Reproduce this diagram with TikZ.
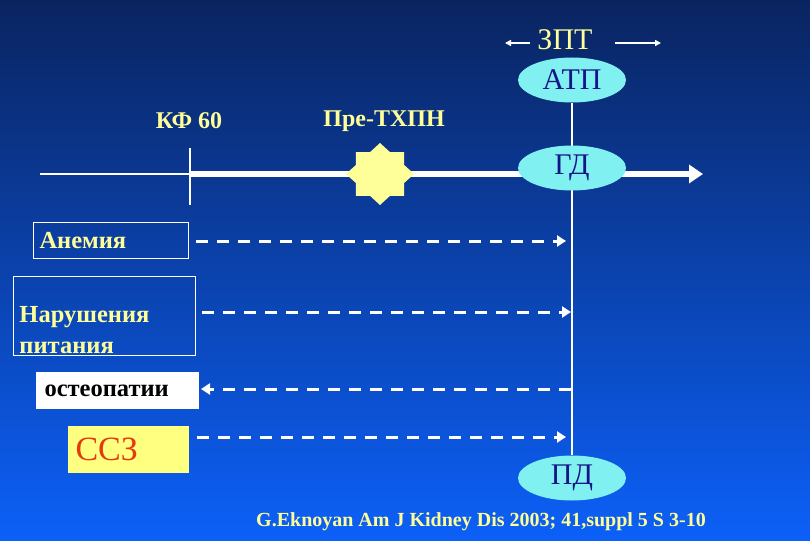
\documentclass[tikz,border=0pt]{standalone}
\usepackage{fontspec}
\setmainfont{Liberation Serif}
\usetikzlibrary{arrows.meta,positioning,shapes.geometric,backgrounds}
\definecolor{bgtop}{HTML}{0A2460}
\definecolor{bgmid}{HTML}{0A44BE}
\definecolor{bgbot}{HTML}{0C60F8}
\definecolor{paleyel}{HTML}{FFFF99}
\definecolor{ovalcyan}{HTML}{80F0F0}
\definecolor{ovalink}{HTML}{15158A}
\definecolor{cvdred}{HTML}{E5390F}
\definecolor{cvdfill}{HTML}{FFFF80}
\tikzset{
  oval/.style={ellipse,fill=ovalcyan,minimum width=108pt,minimum height=45pt,
    inner sep=0pt,text=ovalink,font=\fontsize{30}{32}\selectfont},
  stage/.style={text=paleyel,font=\fontsize{24}{28}\selectfont\bfseries},
  sidebox/.style={draw=white,line width=1pt,anchor=north west,align=left,
    inner xsep=6pt,inner ysep=0pt,text=paleyel,font=\fontsize{24.5}{31}\selectfont\bfseries},
  link/.style={white,line width=3pt,dash pattern=on 12pt off 9pt,
    -{Triangle[length=9pt,width=11pt]}},
  axis/.style={white,line width=1.5pt},
  timeline/.style={white,line width=6pt,-{Triangle[length=14pt,width=18pt]}},
  rrt/.style={white,line width=1.5pt,-{Triangle[length=6pt,width=6pt]}}
}

\begin{document}
\begin{tikzpicture}[x=1pt,y=-1pt]
  \useasboundingbox (0,0) rectangle (810,540);
  % Modalities
  \node[text=paleyel,font=\fontsize{30}{32}\selectfont] (zpt) at (565,40) {ЗПТ};
  \node[oval] (atp) at (572,80) {АТП};
  \node[oval] (gd) at (572,168) {ГД};
  \node[oval] (pd) at (572,478) {ПД};
  \coordinate (zptl) at (505,43);
  \coordinate (zptr) at (661,43);
  % Stages
  \node[stage] (kf) at (189,121) {КФ 60};
  \node[stage] (pre) at (384,121) {Пре-ТХПН};
  \node[star,star points=8,star point ratio=1.31,minimum size=62pt,inner sep=0pt,
    xscale=1.1,transform shape,fill=paleyel] (starpre) at (380,174) {};
  \coordinate (tlstart) at (40,174);
  \coordinate (kfmark) at (190,174);
  \coordinate (tlend) at (703,174);
  \coordinate (ticktop) at (190,148);
  \coordinate (tickbot) at (190,205);
  % Complications
  \node[sidebox,text width=143pt,minimum height=36pt] (anemia) at (33,222) {Анемия};
  \node[sidebox,text width=170pt,minimum height=79pt] (nutr) at (13,276)
    {\rule{0pt}{44pt}Нарушения\\питания};
  \node[sidebox,fill=white,text=black,inner xsep=8pt,text width=146pt,
    minimum height=36pt] (osteo) at (36,372) {остеопатии};
  \node[sidebox,draw=none,fill=cvdfill,text=cvdred,inner xsep=8pt,text width=105pt,
    minimum height=47pt,font=\fontsize{34}{36}\selectfont] (cvd) at (67,425) {ССЗ};
  \coordinate (anemiaend) at (566,241);
  \coordinate (nutrend) at (571,312);
  \coordinate (osteostart) at (571,389);
  \coordinate (cvdend) at (566,437);
  % Source
  \node[text=paleyel,font=\fontsize{20}{22}\selectfont\bfseries] (src) at (481,522)
    {G.Eknoyan Am J Kidney Dis 2003; 41,suppl 5 S 3-10};
  \begin{scope}[on background layer]
    \shade[top color=bgtop,middle color=bgmid,bottom color=bgbot] (0,0) rectangle (810,540);
    \draw[white,line width=2.5pt] (atp.south) -- (pd.north);
    \draw[axis] (tlstart) -- (kfmark);
    \draw[axis] (ticktop) -- (tickbot);
    \draw[timeline] (kfmark) -- (tlend);
    \draw[rrt] ([xshift=-4pt]zpt.west |- zptl) -- (zptl);
    \draw[rrt] ([xshift=19pt]zpt.east |- zptr) -- (zptr);
    \draw[link] ([xshift=7pt]anemia.east |- anemiaend) -- (anemiaend);
    \draw[link] ([xshift=6pt]nutr.east |- nutrend) -- (nutrend);
    \draw[link] (osteostart) -- ([xshift=2pt]osteo.east |- osteostart);
    \draw[link] ([xshift=8pt]cvd.east |- cvdend) -- (cvdend);
  \end{scope}
\end{tikzpicture}
\end{document}
